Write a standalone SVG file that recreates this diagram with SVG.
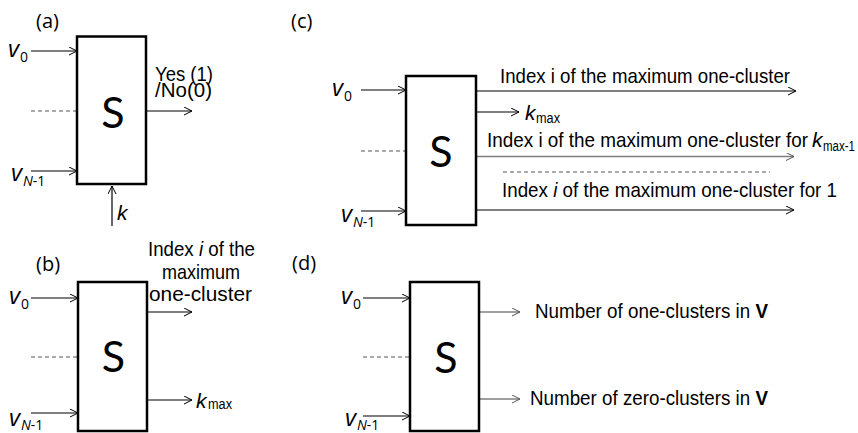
<svg xmlns="http://www.w3.org/2000/svg" width="858" height="433" viewBox="0 0 858 433">
<style>
.box{fill:#fff;stroke:#000;stroke-width:2.5}
.ln{stroke:#000;stroke-width:1.2;fill:none}
.gr{stroke:#7f7f7f;stroke-width:1.5;fill:none}
.ds{stroke:#555;stroke-width:1;stroke-dasharray:4,3;fill:none}
.lbl{font-family:"Open Sans",Lato,sans-serif;font-size:20px;fill:#000}
.S{font-family:Lato,"Open Sans",sans-serif;font-size:43px;fill:#000;text-anchor:middle}
.v{font-family:"Open Sans","Noto Sans",sans-serif;font-size:24px;font-style:italic;fill:#000}
.sub{font-family:"Open Sans","Noto Sans",sans-serif;font-size:14px;fill:#000}
.t{font-family:"Liberation Sans",Arial,sans-serif;font-size:21px;fill:#000}
.ts{font-family:"Liberation Sans",Arial,sans-serif;font-size:14px;fill:#000}
.it{font-style:italic}
.b{font-weight:bold}
</style>
<defs>
<marker id="ah" markerUnits="userSpaceOnUse" markerWidth="10" markerHeight="10" refX="8" refY="4" orient="auto"><path d="M0,0 L8,4 L0,8" fill="none" stroke="#000" stroke-width="1"/></marker>
<marker id="ahg" markerUnits="userSpaceOnUse" markerWidth="10" markerHeight="10" refX="8" refY="4" orient="auto"><path d="M0,0 L8,4 L0,8" fill="none" stroke="#555" stroke-width="1"/></marker>
</defs>

<g id="connectors">
<!-- (a) -->
<line class="ln" x1="31" y1="51" x2="77" y2="51" marker-end="url(#ah)"/>
<line class="ds" x1="31" y1="111" x2="77" y2="111"/>
<line class="ln" x1="31" y1="171" x2="77" y2="171" marker-end="url(#ah)"/>
<line class="ln" x1="146" y1="111" x2="192" y2="111" marker-end="url(#ah)"/>
<line class="ln" x1="112" y1="226" x2="112" y2="186" marker-end="url(#ah)"/>
<!-- (b) -->
<line class="ln" x1="31" y1="298" x2="78" y2="298" marker-end="url(#ah)"/>
<line class="ds" x1="31" y1="357" x2="78" y2="357"/>
<line class="ln" x1="31" y1="413" x2="78" y2="413" marker-end="url(#ah)"/>
<line class="ln" x1="147" y1="312" x2="192" y2="312" marker-end="url(#ah)"/>
<line class="ln" x1="147" y1="400" x2="192" y2="400" marker-end="url(#ah)"/>
<!-- (c) -->
<line class="ln" x1="361" y1="90" x2="406" y2="90" marker-end="url(#ah)"/>
<line class="ds" x1="361" y1="151" x2="406" y2="151"/>
<line class="ln" x1="361" y1="211" x2="406" y2="211" marker-end="url(#ah)"/>
<line class="ln" x1="477" y1="91" x2="796" y2="91" marker-end="url(#ah)"/>
<line class="ln" x1="477" y1="112" x2="519" y2="112" marker-end="url(#ah)"/>
<line class="gr" x1="477" y1="156.5" x2="794" y2="156.5" marker-end="url(#ahg)"/>
<line class="ds" x1="503" y1="172" x2="770" y2="172"/>
<line class="ln" x1="477" y1="210" x2="794" y2="210" marker-end="url(#ah)"/>
<!-- (d) -->
<line class="ln" x1="363" y1="298" x2="410" y2="298" marker-end="url(#ah)"/>
<line class="ds" x1="363" y1="357" x2="410" y2="357"/>
<line class="ln" x1="363" y1="416" x2="410" y2="416" marker-end="url(#ah)"/>
<line class="gr" x1="480" y1="312" x2="520" y2="312" marker-end="url(#ahg)"/>
<line class="gr" x1="480" y1="399" x2="520" y2="399" marker-end="url(#ahg)"/>
</g>

<g id="panel-a">
<text class="lbl" x="36" y="28">(a)</text>
<rect id="box-a" class="box" x="77" y="36.5" width="69" height="147.5"/>
<text class="S" x="113" y="128">S</text>
<text class="v" x="8" y="57">v</text><text class="sub" x="20" y="62">0</text>
<text class="v" x="11" y="181">v</text><text class="sub" x="23" y="186"><tspan class="it">N</tspan>-1</text>
<text class="t" x="155" y="81" textLength="58" lengthAdjust="spacingAndGlyphs">Yes (1)</text>
<text class="t" x="155" y="97" textLength="57" lengthAdjust="spacingAndGlyphs">/No(0)</text>
<text class="t it" x="117" y="220">k</text>
</g>

<g id="panel-b">
<text class="lbl" x="36" y="271">(b)</text>
<rect id="box-b" class="box" x="78" y="282" width="69" height="149"/>
<text class="S" x="113.5" y="372">S</text>
<text class="v" x="9" y="304">v</text><text class="sub" x="21" y="309">0</text>
<text class="v" x="9" y="426">v</text><text class="sub" x="21" y="430"><tspan class="it">N</tspan>-1</text>
<text class="t" x="148" y="256" textLength="107" lengthAdjust="spacingAndGlyphs">Index <tspan class="it">i</tspan> of the</text>
<text class="t" x="162" y="279" textLength="78" lengthAdjust="spacingAndGlyphs">maximum</text>
<text class="t" x="149" y="301" textLength="103" lengthAdjust="spacingAndGlyphs">one-cluster</text>
<text class="t it" x="196" y="408">k</text><text class="ts" x="208" y="409" textLength="24" lengthAdjust="spacingAndGlyphs">max</text>
</g>

<g id="panel-c">
<text class="lbl" x="291" y="28">(c)</text>
<rect id="box-c" class="box" x="406" y="76" width="70" height="149"/>
<text class="S" x="441" y="167">S</text>
<text class="v" x="332" y="96">v</text><text class="sub" x="344" y="101">0</text>
<text class="v" x="341" y="222">v</text><text class="sub" x="353" y="227"><tspan class="it">N</tspan>-1</text>
<text class="t" x="500" y="83" textLength="290" lengthAdjust="spacingAndGlyphs">Index i of the maximum one-cluster</text>
<text class="t it" x="525" y="120">k</text><text class="ts" x="536" y="123" textLength="24" lengthAdjust="spacingAndGlyphs">max</text>
<text class="t" x="487" y="147" textLength="321" lengthAdjust="spacingAndGlyphs">Index i of the maximum one-cluster for</text>
<text class="t it" x="812" y="147">k</text><text class="ts" x="823" y="151" textLength="32" lengthAdjust="spacingAndGlyphs">max-1</text>
<text class="t" x="502" y="197" textLength="335" lengthAdjust="spacingAndGlyphs">Index <tspan class="it">i</tspan> of the maximum one-cluster for 1</text>
</g>

<g id="panel-d">
<text class="lbl" x="292" y="270">(d)</text>
<rect id="box-d" class="box" x="410" y="282" width="69" height="149"/>
<text class="S" x="446" y="373">S</text>
<text class="v" x="341" y="304">v</text><text class="sub" x="353" y="309">0</text>
<text class="v" x="345" y="426">v</text><text class="sub" x="357" y="430"><tspan class="it">N</tspan>-1</text>
<text class="t" x="535" y="318" textLength="233" lengthAdjust="spacingAndGlyphs">Number of one-clusters in <tspan class="b">V</tspan></text>
<text class="t" x="530" y="405" textLength="238" lengthAdjust="spacingAndGlyphs">Number of zero-clusters in <tspan class="b">V</tspan></text>
</g>
</svg>
